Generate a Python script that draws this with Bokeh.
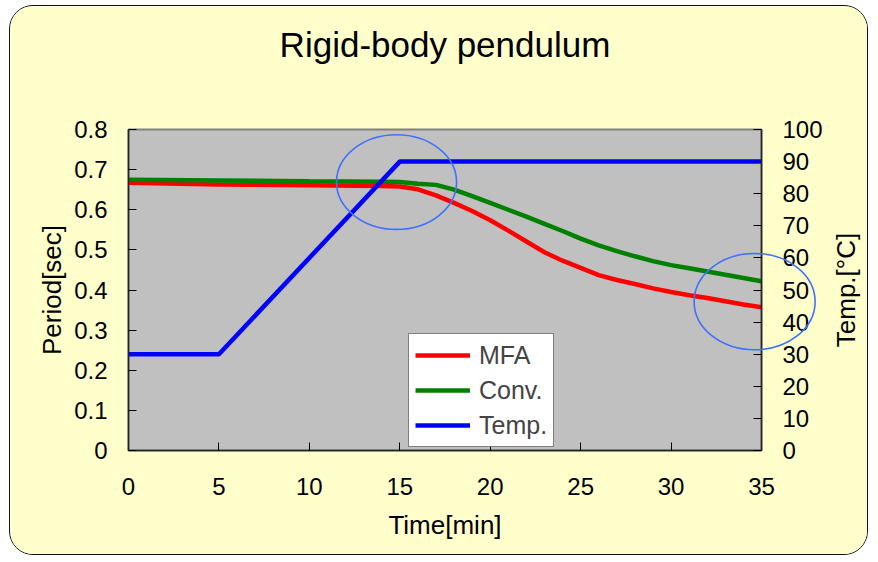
import math
from bokeh.plotting import figure
from bokeh.layouts import row
from bokeh.models import (Range1d, LinearAxis, FixedTicker, Legend, LegendItem,
                          Title, Label)
from bokeh.embed import file_html
from bokeh.resources import INLINE

# ---- data ----
time_min = [0, 5, 10, 14, 15, 16, 17, 18, 19, 20, 21, 22, 23, 24, 25, 26, 27, 28,
            29, 30, 31, 32, 33, 34, 35]
mfa = [0.667, 0.663, 0.661, 0.659, 0.658, 0.651, 0.636, 0.617, 0.597, 0.574, 0.548,
       0.521, 0.494, 0.473, 0.455, 0.437, 0.425, 0.415, 0.404, 0.395, 0.387, 0.380,
       0.372, 0.364, 0.357]
conv = [0.675, 0.673, 0.671, 0.670, 0.669, 0.665, 0.662, 0.650, 0.634, 0.617, 0.600,
        0.583, 0.565, 0.547, 0.528, 0.511, 0.497, 0.484, 0.472, 0.462, 0.454, 0.446,
        0.438, 0.430, 0.422]
temp_time = [0, 5, 15, 35]
temp_c = [30, 30, 90, 90]

x_ticks = [0, 5, 10, 15, 20, 25, 30, 35]
period_ticks = [0, 0.1, 0.2, 0.3, 0.4, 0.5, 0.6, 0.7, 0.8]
period_tick_labels = ["0", "0.1", "0.2", "0.3", "0.4", "0.5", "0.6", "0.7", "0.8"]
temp_ticks = [0, 10, 20, 30, 40, 50, 60, 70, 80, 90, 100]

title_text = "Rigid-body pendulum"
x_label = "Time[min]"
y_label = "Period[sec]"
y2_label = "Temp.[°C]"
series_names = ["MFA", "Conv.", "Temp."]
series_colors = ["#FF0000", "#008000", "#0000FF"]

# highlight ellipses: (center x, center y, width, height) in data units
ellipse_inner = (14.82, 0.669, 6.64, 0.236)
ellipse_edge = (34.73, 0.371, 6.69, 0.24)
ELLIPSE_COLOR = "#4070FF"

FONT = "Liberation Sans"

# ---- layout geometry of the main figure ----
W, H = 859, 550
MB_L, MB_R, MB_T, MB_B = 118, 108, 123, 106
M_X, M_Y = 9, 5                       # css margins

p = figure(width=W, height=H, output_backend="svg", toolbar_location=None,
           x_range=Range1d(0, 35), y_range=Range1d(0, 0.8),
           min_border_left=MB_L, min_border_right=MB_R, min_border_top=MB_T,
           min_border_bottom=MB_B)
p.extra_y_ranges = {"temp": Range1d(0, 100)}
p.styles = {"border": "1px solid #111", "border-radius": "24px", "overflow": "hidden",
            "margin-left": f"{M_X}px", "margin-top": f"{M_Y}px"}

p.background_fill_color = "#C0C0C0"
p.border_fill_color = "#FFFFCC"
p.outline_line_color = "#808080"
p.outline_line_width = 2
p.grid.visible = False

p.title.text = title_text
p.title.text_font = FONT
p.title.text_font_size = "35px"
p.title.text_font_style = "normal"
p.title.align = "center"
p.title.text_color = "#000000"
# empty spacer between the title and the plot frame
p.add_layout(Title(text=" ", text_font=FONT, text_font_size="35px", standoff=20), "above")

def style_axis(ax, standoff):
    ax.major_tick_in = 8
    ax.major_tick_out = 0
    ax.minor_tick_line_color = None
    ax.major_tick_line_color = "#000000"
    ax.axis_line_color = "#222222"
    ax.axis_line_width = 1.5
    ax.major_label_text_font = FONT
    ax.major_label_text_font_size = "24px"
    ax.major_label_text_color = "#000000"
    ax.major_label_standoff = standoff
    ax.axis_label_text_font = FONT
    ax.axis_label_text_font_size = "26px"
    ax.axis_label_text_font_style = "normal"
    ax.axis_label_text_color = "#000000"

xa = p.xaxis[0]
xa.ticker = FixedTicker(ticks=x_ticks)
xa.axis_label = x_label
style_axis(xa, 27)
xa.axis_label_standoff = 12

ya = p.yaxis[0]
ya.ticker = FixedTicker(ticks=period_ticks)
ya.major_label_overrides = {t: s for t, s in zip(period_ticks, period_tick_labels)}
ya.axis_label = y_label
style_axis(ya, 21)
ya.axis_label_standoff = 4

ra = LinearAxis(y_range_name="temp", ticker=FixedTicker(ticks=temp_ticks))
style_axis(ra, 21)
p.add_layout(ra, "right")

r_mfa = p.line(time_min, mfa, color=series_colors[0], line_width=4.5)
r_conv = p.line(time_min, conv, color=series_colors[1], line_width=4.5)
r_temp = p.line(temp_time, temp_c, color=series_colors[2], line_width=4.5,
                y_range_name="temp")

cx, cy, ew, eh = ellipse_inner
p.ellipse(x=[cx], y=[cy], width=ew, height=eh, fill_alpha=0,
          line_color=ELLIPSE_COLOR, line_width=1.6)

legend = Legend(items=[LegendItem(label=series_names[0], renderers=[r_mfa]),
                       LegendItem(label=series_names[1], renderers=[r_conv]),
                       LegendItem(label=series_names[2], renderers=[r_temp])],
                location=(280, 3), orientation="vertical")
legend.label_text_font = FONT
legend.label_text_font_size = "25px"
legend.glyph_width = 55
legend.glyph_height = 20
legend.label_height = 30
legend.spacing = 5
legend.padding = 6
legend.margin = 0
legend.label_standoff = 9
legend.border_line_color = "#000000"
legend.border_line_width = 1
legend.background_fill_color = "#FFFFFF"
legend.background_fill_alpha = 1
p.add_layout(legend, "center")

# ---- transparent overlay: same box and same vertical mapping as the main figure,
#      but its frame spans the full width so the edge ellipse and the
#      right-hand label are not clipped ----
dx = 35 / (W - MB_L - MB_R)
q = figure(width=W, height=H, output_backend="svg", toolbar_location=None,
           x_range=Range1d(-MB_L * dx, (W - MB_L) * dx), y_range=Range1d(0, 0.8),
           x_axis_type=None, y_axis_type=None,
           min_border_left=0, min_border_right=0,
           min_border_top=MB_T, min_border_bottom=MB_B)
q.styles = {"border": "1px solid transparent", "margin-top": f"{M_Y}px",
            "margin-left": f"-{W + 2}px", "pointer-events": "none"}
q.background_fill_alpha = 0
q.border_fill_alpha = 0
q.outline_line_color = None
q.grid.visible = False

cx, cy, ew, eh = ellipse_edge
q.ellipse(x=[cx], y=[cy], width=ew, height=eh, fill_alpha=0,
          line_color=ELLIPSE_COLOR, line_width=1.6)
q.add_layout(Label(x=35 + 86 * dx, y=0.4, text=y2_label, angle=math.pi / 2,
                   text_align="center", text_baseline="middle", text_font=FONT,
                   text_font_size="26px", text_color="#000000"))

root = row(p, q)
open("out.html", "w").write(file_html(root, INLINE))
